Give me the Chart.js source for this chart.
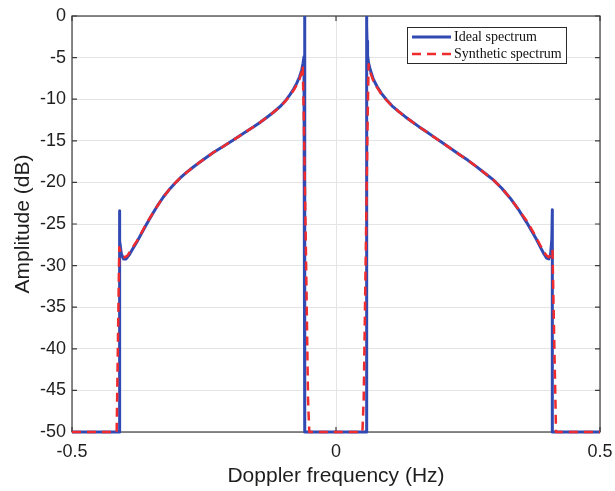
<!DOCTYPE html>
<html>
<head>
<meta charset="utf-8">
<script src="https://cdn.jsdelivr.net/npm/chart.js@4.4.1/dist/chart.umd.min.js"></script>
<style>
  html, body { margin: 0; padding: 0; background: #fff; }
</style>
</head>
<body>
<canvas id="spectrum" width="615" height="491"></canvas>
<script>
// Doppler spectrum: ideal vs synthetic (dB)
const idealFreq = [
  -0.5, -0.4104, -0.4104, -0.4092, -0.4065, -0.4025, -0.3975, -0.3920, -0.3860, -0.3775,
  -0.3680, -0.3586, -0.3490, -0.3396, -0.3270, -0.3144, -0.3050, -0.2955, -0.2830, -0.2702,
  -0.2510, -0.2323, -0.2130, -0.1944, -0.1750, -0.1566, -0.1440, -0.1313, -0.1190, -0.1061,
  -0.0966, -0.0871, -0.0800, -0.0745, -0.0690, -0.0650, -0.0625, -0.0606, -0.0597, -0.0592,
  -0.0590, -0.0590,
  0.0580, 0.0580, 0.0582, 0.0588, 0.0598, 0.0615, 0.0650, 0.0707, 0.0780, 0.0860,
  0.0960, 0.1060, 0.1190, 0.1310, 0.1440, 0.1570, 0.1720, 0.1880, 0.2030, 0.2200,
  0.2350, 0.2500, 0.2660, 0.2820, 0.2980, 0.3140, 0.3300, 0.3450, 0.3610, 0.3720,
  0.3800, 0.3880, 0.3940, 0.3990, 0.4030, 0.4065, 0.4088, 0.4097, 0.4097, 0.5
];
const idealAmp = [
  -50, -50, -23.4, -27.0, -28.6, -29.2, -29.2, -28.75, -28.1, -27.2,
  -26.1, -25.0, -23.95, -22.95, -21.75, -20.75, -20.1, -19.5, -18.8, -18.15,
  -17.25, -16.4, -15.65, -14.9, -14.1, -13.35, -12.8, -12.2, -11.6, -10.9,
  -10.25, -9.45, -8.75, -8.1, -7.3, -6.5, -5.7, -4.9, -3.0, -1.2,
  0, -50,
  -50, 0, -1.2, -3.0, -4.7, -5.6, -6.5, -7.6, -8.5, -9.3,
  -10.1, -10.8, -11.5, -12.1, -12.7, -13.3, -13.95, -14.65, -15.3, -16.05,
  -16.7, -17.35, -18.1, -18.9, -19.7, -20.7, -21.9, -23.2, -24.8, -26.0,
  -26.9, -27.9, -28.6, -29.1, -29.2, -28.6, -26.8, -23.3, -50, -50
];

const synthFreq = [
  -0.5, -0.4154, -0.4105, -0.4080, -0.4040, -0.4000, -0.3950, -0.3890, -0.3820, -0.3775,
  -0.3680, -0.3586, -0.3490, -0.3396, -0.3270, -0.3144, -0.3050, -0.2955, -0.2830, -0.2702,
  -0.2510, -0.2323, -0.2130, -0.1944, -0.1750, -0.1566, -0.1440, -0.1313, -0.1190, -0.1061,
  -0.0966, -0.0871, -0.0800, -0.0745, -0.0690, -0.0655, -0.0630, -0.0610, -0.0570, -0.0530,
  -0.0506,
  0.0500, 0.0525, 0.0565, 0.0600, 0.0618, 0.0650, 0.0707, 0.0780, 0.0860, 0.0960,
  0.1060, 0.1190, 0.1310, 0.1440, 0.1570, 0.1720, 0.1880, 0.2030, 0.2200, 0.2350,
  0.2500, 0.2660, 0.2820, 0.2980, 0.3140, 0.3300, 0.3450, 0.3610, 0.3720, 0.3800,
  0.3880, 0.3940, 0.3990, 0.4030, 0.4070, 0.4100, 0.4167, 0.5
];
const synthAmp = [
  -50, -50, -27.8, -28.4, -28.9, -29.0, -28.8, -28.2, -27.5, -27.1,
  -26.0, -24.9, -23.9, -22.95, -21.75, -20.75, -20.1, -19.5, -18.8, -18.15,
  -17.25, -16.4, -15.65, -14.9, -14.1, -13.35, -12.8, -12.2, -11.6, -10.95,
  -10.3, -9.55, -8.9, -8.3, -7.6, -6.8, -6.0, -12.0, -28.0, -46.0,
  -50,
  -50, -46.0, -28.0, -12.0, -5.8, -6.8, -7.8, -8.6, -9.4, -10.15,
  -10.8, -11.5, -12.1, -12.7, -13.3, -13.95, -14.65, -15.3, -16.05, -16.7,
  -17.35, -18.1, -18.9, -19.7, -20.7, -21.9, -23.2, -24.6, -25.8, -26.7,
  -27.7, -28.4, -28.8, -29.0, -28.7, -28.1, -50, -50
];

const seriesNames = ['Ideal spectrum', 'Synthetic spectrum'];
const xTicks = [-0.5, 0, 0.5];
const yTicks = [0, -5, -10, -15, -20, -25, -30, -35, -40, -45, -50];
const xTitle = 'Doppler frequency (Hz)';
const yTitle = 'Amplitude (dB)';

const BLUE = '#3149b3';
const RED = '#ef2b2d';
const AXIS = '#3c3c3c';
const GRID = '#e4e4e4';
const TEXT = '#1e1e1e';
const SANS = "'Liberation Sans', Arial, Helvetica, sans-serif";
const SERIF = "'Liberation Serif', 'Times New Roman', serif";
const RED_DASH = [9, 6];

const toPoints = (xs, ys) => xs.map((x, i) => ({ x, y: ys[i] }));

// MATLAB style box with inward ticks on all four sides
const boxFrame = {
  id: 'boxFrame',
  beforeDatasetsDraw(chart) {
    const { ctx, chartArea: a, scales } = chart;
    ctx.save();
    ctx.strokeStyle = AXIS;
    ctx.lineWidth = 1.2;
    ctx.strokeRect(a.left, a.top, a.right - a.left, a.bottom - a.top);
    ctx.beginPath();
    yTicks.forEach(v => {
      const py = scales.y.getPixelForValue(v);
      ctx.moveTo(a.left, py); ctx.lineTo(a.left + 5, py);
      ctx.moveTo(a.right, py); ctx.lineTo(a.right - 5, py);
    });
    xTicks.forEach(v => {
      const px = scales.x.getPixelForValue(v);
      ctx.moveTo(px, a.top); ctx.lineTo(px, a.top + 5);
      ctx.moveTo(px, a.bottom); ctx.lineTo(px, a.bottom - 5);
    });
    ctx.stroke();
    ctx.restore();
  }
};

// boxed legend in the upper right corner of the plot
const boxLegend = {
  id: 'boxLegend',
  afterDraw(chart) {
    const { ctx } = chart;
    const bx = 407, by = 27, bw = 159, bh = 36;
    ctx.save();
    ctx.fillStyle = '#fff';
    ctx.fillRect(bx, by, bw, bh);
    ctx.strokeStyle = '#2a2a2a';
    ctx.lineWidth = 1;
    ctx.strokeRect(bx + 0.5, by + 0.5, bw, bh);

    const rows = [by + 10, by + 27];
    ctx.lineWidth = 3;
    ctx.strokeStyle = BLUE;
    ctx.beginPath();
    ctx.moveTo(bx + 5, rows[0]); ctx.lineTo(bx + 44, rows[0]);
    ctx.stroke();

    ctx.lineWidth = 2.5;
    ctx.strokeStyle = RED;
    ctx.setLineDash(RED_DASH);
    ctx.beginPath();
    ctx.moveTo(bx + 5, rows[1]); ctx.lineTo(bx + 44, rows[1]);
    ctx.stroke();
    ctx.setLineDash([]);

    ctx.fillStyle = '#111';
    ctx.font = '14px ' + SERIF;
    ctx.textBaseline = 'middle';
    ctx.textAlign = 'left';
    ctx.fillText(seriesNames[0], bx + 47, rows[0]);
    ctx.fillText(seriesNames[1], bx + 47, rows[1]);
    ctx.restore();
  }
};

new Chart(document.getElementById('spectrum'), {
  type: 'line',
  data: {
    datasets: [
      {
        label: seriesNames[0],
        data: toPoints(idealFreq, idealAmp),
        borderColor: BLUE,
        borderWidth: 3,
        borderJoinStyle: 'round',
        order: 2,
        clip: { left: 3, top: 0, right: 3, bottom: 3 }
      },
      {
        label: seriesNames[1],
        data: toPoints(synthFreq, synthAmp),
        borderColor: RED,
        borderWidth: 2.5,
        borderDash: RED_DASH,
        borderJoinStyle: 'round',
        order: 1,
        clip: { left: 3, top: 0, right: 3, bottom: 3 }
      }
    ]
  },
  options: {
    responsive: false,
    animation: false,
    devicePixelRatio: 1,
    layout: { padding: { top: 16, right: 15, left: 0, bottom: 0 } },
    elements: { point: { radius: 0 }, line: { tension: 0, fill: false } },
    plugins: { legend: { display: false }, tooltip: { enabled: false } },
    scales: {
      x: {
        type: 'linear',
        min: -0.5,
        max: 0.5,
        afterFit: s => {
          s.height = 59;
          s.paddingLeft = 0;
          s.paddingRight = 0;
        },
        afterBuildTicks: s => { s.ticks = xTicks.map(v => ({ value: v })); },
        ticks: {
          color: TEXT,
          font: { family: SANS, size: 18 },
          padding: 9,
          maxRotation: 0,
          autoSkip: false,
          callback: v => String(v)
        },
        grid: { color: GRID, lineWidth: 1, drawTicks: false },
        border: { display: false },
        title: {
          display: true,
          text: xTitle,
          color: TEXT,
          font: { family: SANS, size: 21 },
          padding: { top: 0, bottom: 2 }
        }
      },
      y: {
        type: 'linear',
        min: -50,
        max: 0,
        afterFit: s => {
          s.width = 72;
          s.paddingTop = 0;
          s.paddingBottom = 0;
        },
        afterBuildTicks: s => { s.ticks = yTicks.map(v => ({ value: v })); },
        ticks: {
          color: TEXT,
          font: { family: SANS, size: 18 },
          padding: 6,
          autoSkip: false,
          callback: v => String(v)
        },
        grid: { color: GRID, lineWidth: 1, drawTicks: false },
        border: { display: false },
        title: {
          display: true,
          text: yTitle,
          color: TEXT,
          font: { family: SANS, size: 21 },
          padding: { top: 11, bottom: 0 }
        }
      }
    }
  },
  plugins: [boxFrame, boxLegend]
});
</script>
</body>
</html>
